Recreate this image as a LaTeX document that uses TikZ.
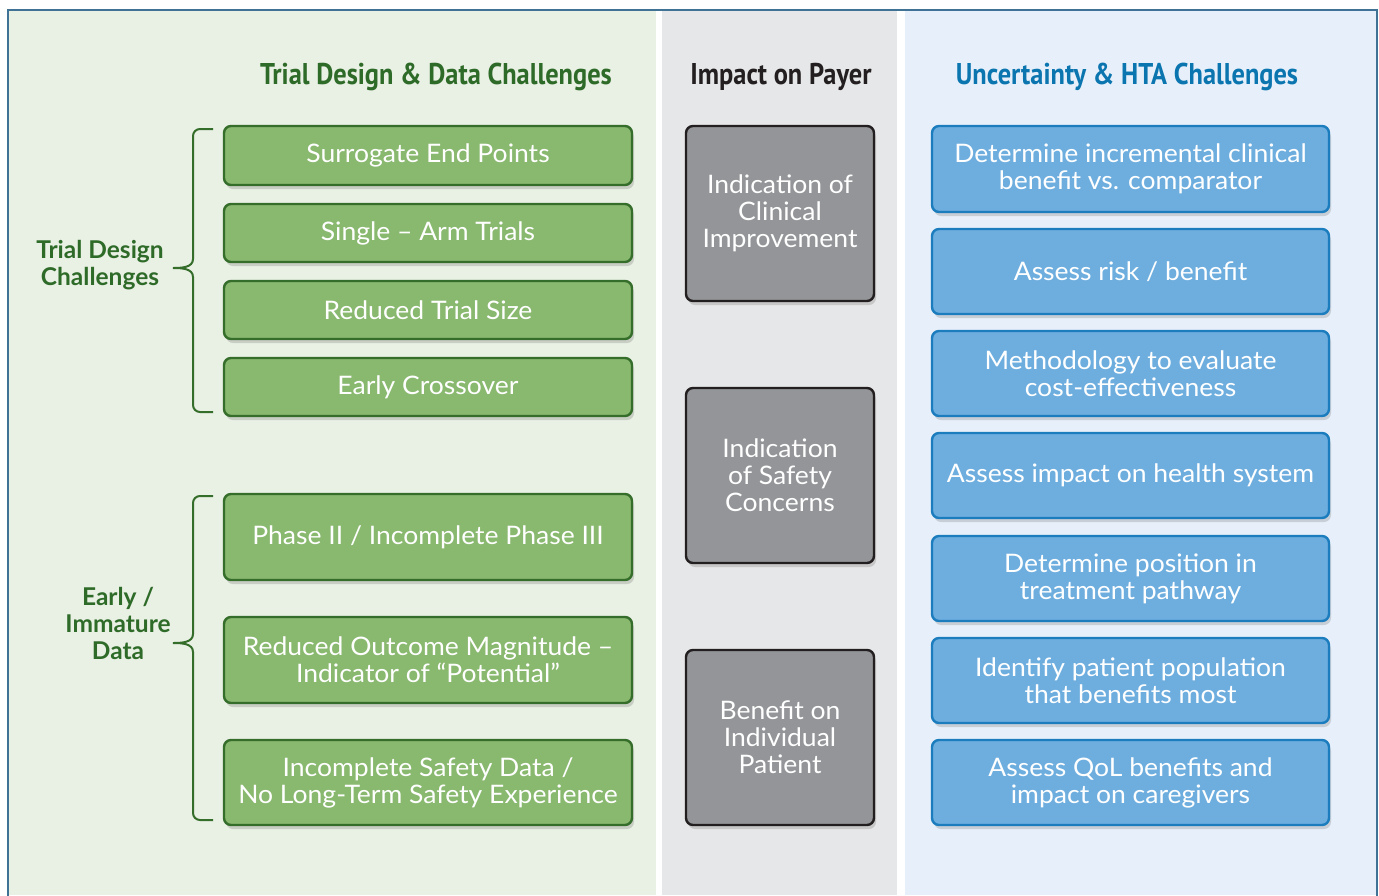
\documentclass[tikz,border=0pt]{standalone}
\usepackage{fontspec}
\setmainfont{Lato}[FakeStretch=1.04]
\newfontfamily\sidefont{Lato}
\newfontfamily\headfont[FakeStretch=0.88]{PT Sans}
\usetikzlibrary{shadows}
\definecolor{panelgreen}{HTML}{E9F0E4}
\definecolor{panelgray}{HTML}{E6E7E8}
\definecolor{panelblue}{HTML}{E7F0FA}
\definecolor{framecol}{HTML}{3F7295}
\definecolor{gfill}{HTML}{89B86F}
\definecolor{gdraw}{HTML}{356E2B}
\definecolor{gtext}{HTML}{2E6B28}
\definecolor{kfill}{HTML}{939598}
\definecolor{kdraw}{HTML}{231F20}
\definecolor{bfill}{HTML}{6EAEDF}
\definecolor{bdraw}{HTML}{1B7DBE}
\definecolor{btext}{HTML}{0B75AF}
\begin{document}
\begin{tikzpicture}[x=1pt,y=-1pt,
  box/.style={rounded corners=7pt, line width=2.4pt, text=white, align=center, inner sep=0pt,
    font=\fontsize{25.5}{27}\selectfont,
    drop shadow={opacity=0.3,shadow xshift=2pt,shadow yshift=-4pt}},
  gbox/.style={box, fill=gfill, draw=gdraw, minimum width=408pt},
  kbox/.style={box, fill=kfill, draw=kdraw, minimum width=188pt, minimum height=175pt},
  bbox/.style={box, fill=bfill, draw=bdraw, minimum width=397pt},
  head/.style={font=\headfont\bfseries\fontsize{30}{36}\selectfont},
  side/.style={text=gtext, align=center, font=\sidefont\bfseries\fontsize{24.5}{27}\selectfont},
  brace/.style={draw=gdraw, line width=2pt}
]
\useasboundingbox (0,0) rectangle (1379,895);
\fill[white] (0,0) rectangle (1379,895);
% panels
\fill[panelgreen] (9,11) rectangle (656,895);
\fill[panelgray] (662,11) rectangle (897,895);
\fill[panelblue] (905,11) rectangle (1376,895);
\draw[framecol, line width=1.2pt] (8,896) -- (8,10) -- (1377,10) -- (1377,896);
% headers
\node[head, text=gtext] (h1) at (436,77) {Trial Design \& Data Challenges};
\node[head, text=kdraw] (h2) at (781,77) {Impact on Payer};
\node[head, text=btext] (h3) at (1127,77) {Uncertainty \& HTA Challenges};
% green boxes
\node[gbox, minimum height=59pt] (g1) at (428,155.5) {Surrogate End Points};
\node[gbox, minimum height=58pt] (g2) at (428,233) {Single -- Arm Trials};
\node[gbox, minimum height=58pt] (g3) at (428,310) {Reduced Trial Size};
\node[gbox, minimum height=58pt] (g4) at (428,387) {Early Crossover};
\node[gbox, minimum height=86pt] (g5) at (428,537) {Phase II / Incomplete Phase III};
\node[gbox, minimum height=86pt] (g6) at (428,660) {Reduced Outcome Magnitude --\\Indicator of ``Potential''};
\node[gbox, minimum height=85pt] (g7) at (428,782.5) {Incomplete Safety Data /\\No Long-Term Safety Experience};
% gray boxes
\node[kbox] (k1) at (780,213.5) {Indication of\\Clinical\\Improvement};
\node[kbox] (k2) at (780,475.5) {Indication\\of Safety\\Concerns};
\node[kbox] (k3) at (780,737.5) {Benefit on\\Individual\\Patient};
% blue boxes
\node[bbox, minimum height=86pt] (b1) at (1130.5,169) {Determine incremental clinical\\benefit vs. comparator};
\node[bbox, minimum height=85pt] (b2) at (1130.5,271.5) {Assess risk / benefit};
\node[bbox, minimum height=85pt] (b3) at (1130.5,373.5) {Methodology to evaluate\\cost-effectiveness};
\node[bbox, minimum height=85pt] (b4) at (1130.5,475.5) {Assess impact on health system};
\node[bbox, minimum height=85pt] (b5) at (1130.5,578.5) {Determine position in\\treatment pathway};
\node[bbox, minimum height=85pt] (b6) at (1130.5,680.5) {Identify patient population\\that benefits most};
\node[bbox, minimum height=85pt] (b7) at (1130.5,782.5) {Assess QoL benefits and\\impact on caregivers};
% side labels
\node[side] (s1) at (100,265) {Trial Design\\Challenges};
\node[side] (s2) at (118,623) {Early /\\Immature\\Data};
% braces
\draw[brace] (213,129) -- (200,129) to[out=180,in=90] (193,136) -- (193,259) to[out=-90,in=0] (173,268)
  to[out=0,in=90] (193,277) -- (193,405) to[out=-90,in=180] (200,412) -- (213,412);
\draw[brace] (213,496) -- (200,496) to[out=180,in=90] (193,503) -- (193,634) to[out=-90,in=0] (173,643)
  to[out=0,in=90] (193,652) -- (193,813) to[out=-90,in=180] (200,820) -- (213,820);
\end{tikzpicture}
\end{document}
